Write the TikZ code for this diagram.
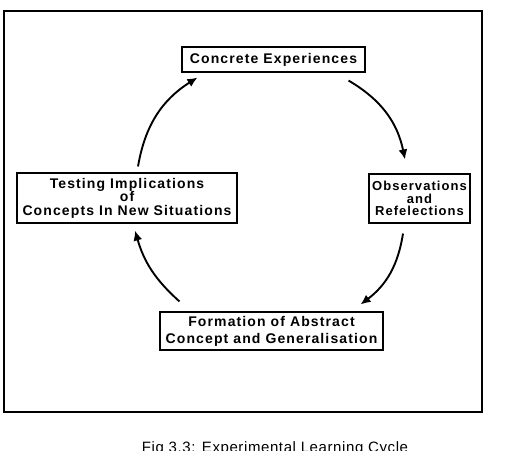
\documentclass[tikz,border=0pt]{standalone}
\usepackage{fontspec}
\setmainfont{Liberation Sans}[LetterSpace=8,UprightFont=*-Bold]
\newfontfamily\capfont{Liberation Sans}[LetterSpace=4]
\usetikzlibrary{arrows.meta}
\begin{document}
\begin{tikzpicture}[x=1pt,y=-1pt,
  boxnode/.style={draw,line width=1.1pt,inner sep=0pt,align=center,
    font=\fontsize{14}{13.5}\selectfont},
  cyclearrow/.style={line width=1.9pt,-{Latex[length=10pt,width=9pt]}}]
\useasboundingbox (0,0) rectangle (522,450);
\clip (0,0) rectangle (522,450);
\draw[line width=1.2pt] (4,11) rectangle (482,412);
\node[boxnode,minimum width=183pt,minimum height=25pt] (ce) at (273.5,59.5) {Concrete Experiences};
\node[boxnode,minimum width=101pt,minimum height=49pt,font=\fontsize{13}{12.5}\selectfont] (ob) at (419.5,198.5) {Observations\\and\\Refelections};
\node[boxnode,minimum width=223pt,minimum height=38pt,font=\fontsize{14}{17}\selectfont] (fo) at (271.5,331) {Formation of Abstract\\Concept and Generalisation};
\node[boxnode,minimum width=220pt,minimum height=50pt] (te) at (127,198) {Testing Implications\\of\\Concepts In New Situations};
\draw[cyclearrow] ([shift={(-17,8)}]ce.south east) to[bend left=24] ([shift={(-14.5,-14)}]ob.north);
\draw[cyclearrow] ([shift={(-16.5,10)}]ob.south) to[bend left=22] ([shift={(-23,-7)}]fo.north east);
\draw[cyclearrow] ([shift={(20,-10)}]fo.north west) to[bend left=16] ([shift={(8,7)}]te.south);
\draw[cyclearrow] ([shift={(11,-6)}]te.north) to[bend left=24] ([shift={(16,5)}]ce.south west);
\node[anchor=base,font=\capfont\fontsize{15}{16}\selectfont] (cap) at (275,452) {Fig 3.3: Experimental Learning Cycle};
\end{tikzpicture}
\end{document}
